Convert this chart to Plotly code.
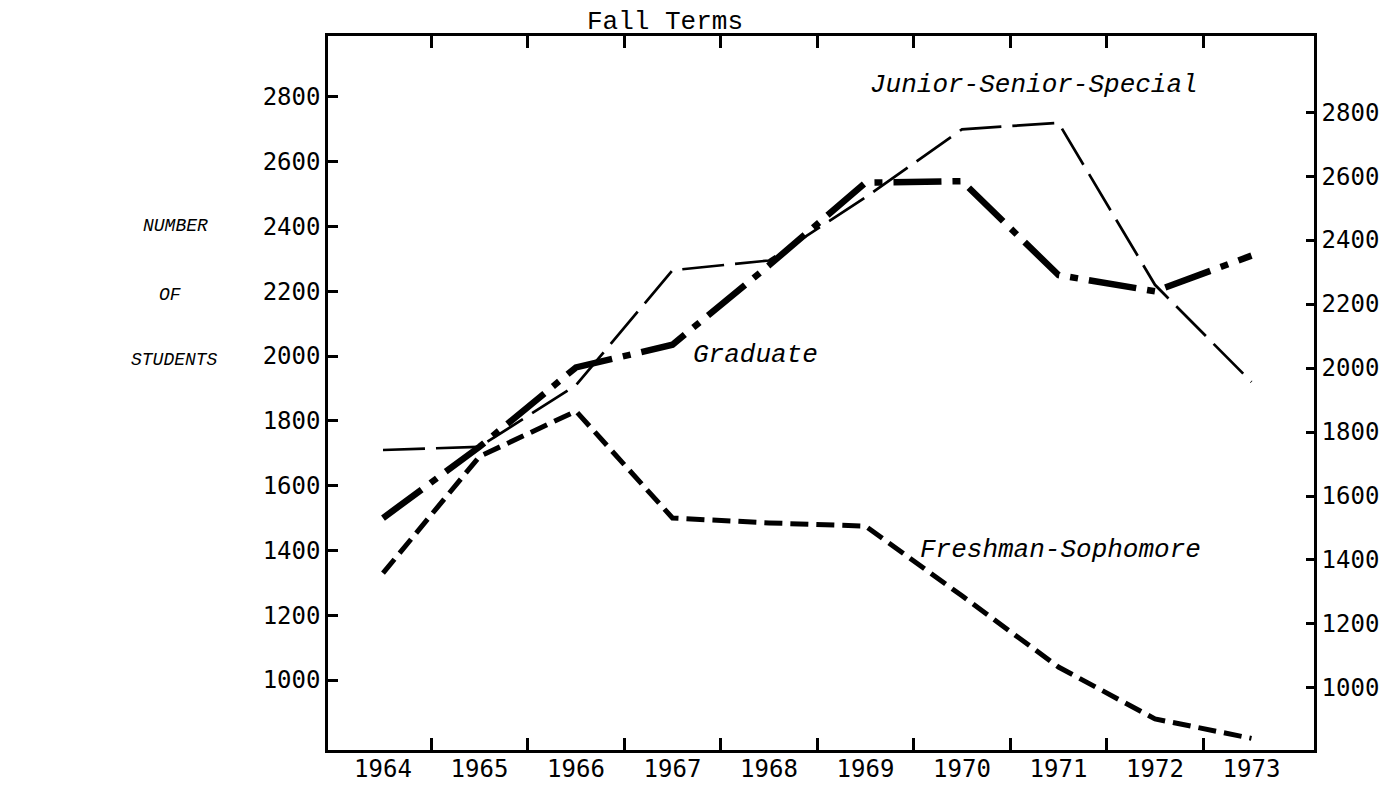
import plotly.graph_objects as go

years = [1964, 1965, 1966, 1967, 1968, 1969, 1970, 1971, 1972, 1973]
freshman_sophomore = [1330, 1690, 1830, 1500, 1485, 1475, 1260, 1040, 880, 820]
junior_senior_special = [1710, 1720, 1910, 2265, 2295, 2490, 2700, 2720, 2220, 1920]
graduate = [1500, 1720, 1965, 2035, 2280, 2535, 2540, 2250, 2200, 2310]

y_ticks = [1000, 1200, 1400, 1600, 1800, 2000, 2200, 2400, 2600, 2800]
year_boundaries = [1964.5, 1965.5, 1966.5, 1967.5, 1968.5, 1969.5, 1970.5, 1971.5, 1972.5]

W, H = 1383, 787
PL, PR, PT, PB = 328, 1314, 36, 750  # plot area edges in px

fig = go.Figure()

fig.add_trace(go.Scatter(
    x=years, y=junior_senior_special, mode="lines",
    line=dict(color="black", width=2.7, dash="42px,11px"),
    name="Junior-Senior-Special", showlegend=False))
fig.add_trace(go.Scatter(
    x=years, y=graduate, mode="lines",
    line=dict(color="black", width=6.5, dash="48px,11px,8px,11px"),
    name="Graduate", showlegend=False))
fig.add_trace(go.Scatter(
    x=years, y=freshman_sophomore, mode="lines",
    line=dict(color="black", width=5, dash="18px,8px"),
    name="Freshman-Sophomore", showlegend=False))
# empty trace so the right-hand axis is drawn
fig.add_trace(go.Scatter(x=[], y=[], yaxis="y2", showlegend=False, hoverinfo="skip"))

mono = "DejaVu Sans Mono"
courier = "Liberation Mono"

fig.update_layout(
    width=W, height=H,
    margin=dict(l=PL, r=W - PR, t=PT, b=H - PB, autoexpand=False),
    paper_bgcolor="white", plot_bgcolor="white",
    xaxis=dict(
        range=[1963.43, 1973.648],
        tickmode="array", tickvals=years, ticktext=[str(y) for y in years],
        ticks="", showgrid=False, zeroline=False, ticklabelstandoff=-5,
        showline=True, linecolor="black", linewidth=2.5, mirror="allticks",
        tickfont=dict(family=mono, size=24, color="black"),
        minor=dict(tickmode="array", tickvals=year_boundaries, ticks="inside",
                   ticklen=12, tickwidth=2.5, tickcolor="black", showgrid=False),
    ),
    yaxis=dict(
        range=[784, 2988],
        tickmode="array", tickvals=y_ticks, ticktext=[str(v) for v in y_ticks],
        ticks="inside", ticklen=10, tickwidth=2.5, tickcolor="black",
        showgrid=False, zeroline=False,
        showline=True, linecolor="black", linewidth=2.5,
        tickfont=dict(family=mono, size=24, color="black"),
    ),
    yaxis2=dict(
        range=[806, 3038], overlaying="y", side="right",
        tickmode="array", tickvals=y_ticks, ticktext=[str(v) for v in y_ticks],
        ticks="inside", ticklen=8, tickwidth=2.5, tickcolor="black",
        showgrid=False, zeroline=False,
        showline=True, linecolor="black", linewidth=2.5,
        tickfont=dict(family=mono, size=24, color="black"),
    ),
)

ann_font = dict(family=courier, size=26, color="black")
it_font = dict(family=courier, size=26, color="black", style="italic")
side_font = dict(family=courier, size=18, color="black", style="italic")

# (text, screen x, screen y, font)
labels = [
    ("Fall Terms", 665, 22, ann_font),
    ("Junior-Senior-Special", 1034, 85, it_font),
    ("Graduate", 755, 355, it_font),
    ("Freshman-Sophomore", 1060, 550, it_font),
    ("NUMBER", 175, 226, side_font),
    ("OF", 170, 295, side_font),
    ("STUDENTS", 174, 360, side_font),
]
pw, ph = PR - PL, PB - PT
for text, sx, sy, font in labels:
    fig.add_annotation(text=text, x=(sx - PL) / pw, y=(PB - sy) / ph,
                       xref="paper", yref="paper", showarrow=False,
                       xanchor="center", yanchor="middle", font=font)

fig.write_html(
    "out.html",
    config={"displayModeBar": False},
    post_script="document.body.style.margin='0';document.body.style.overflow='hidden';",
)
